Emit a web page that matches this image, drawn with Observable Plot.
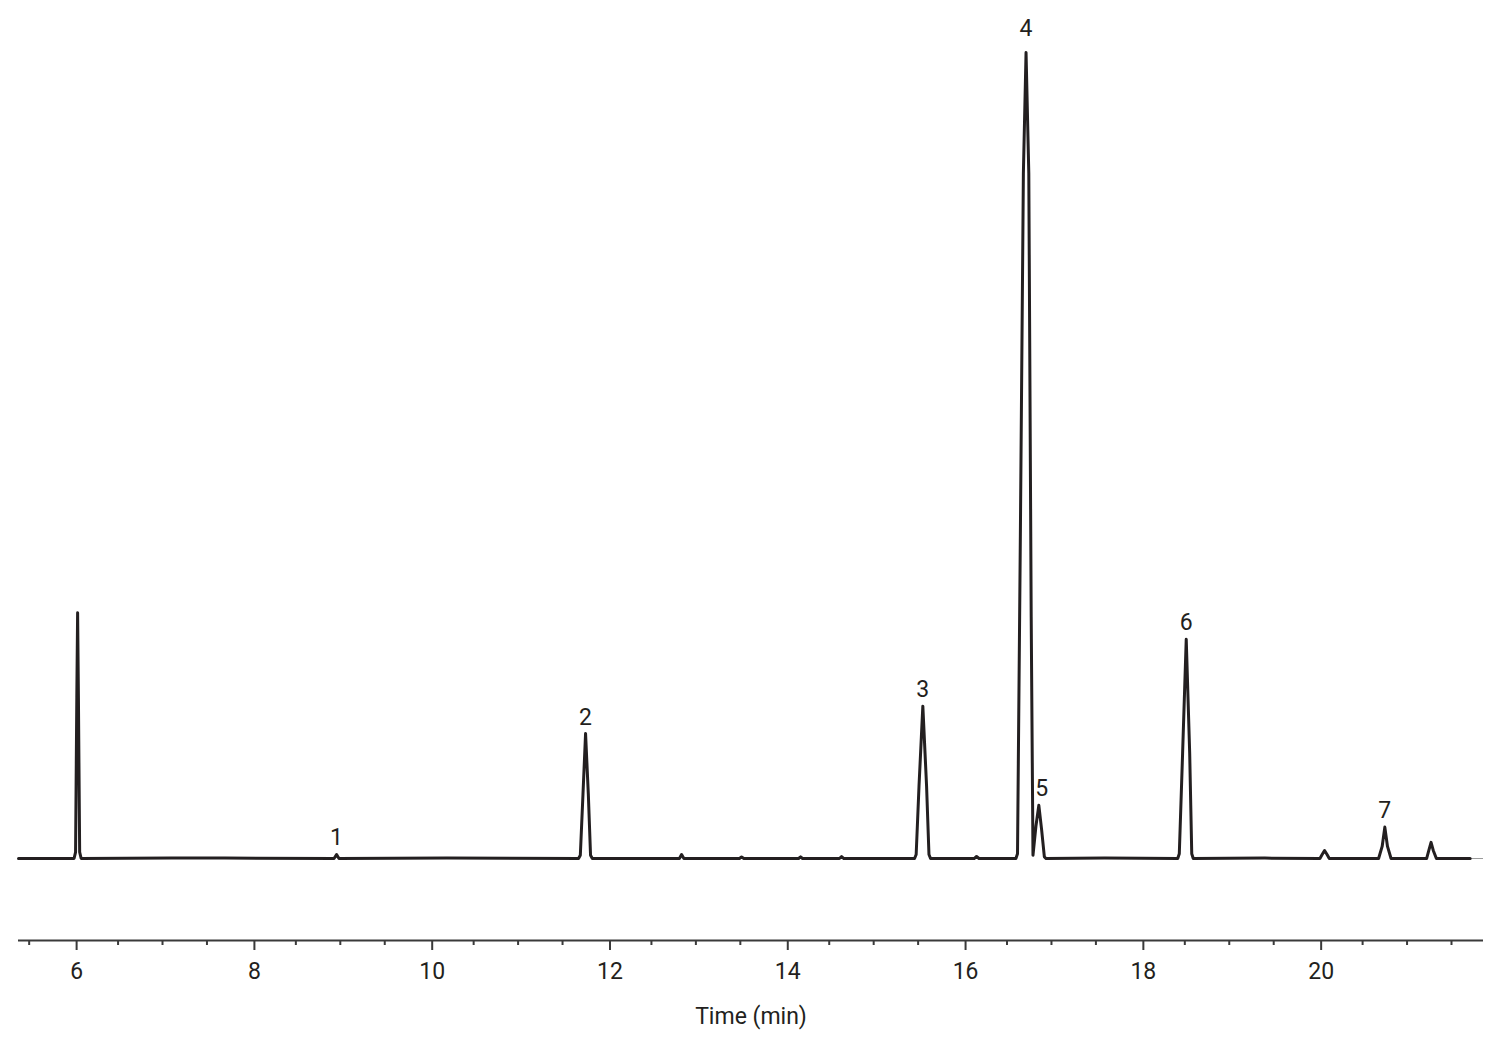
<!DOCTYPE html>
<html>
<head>
<meta charset="utf-8">
<script src="https://cdn.jsdelivr.net/npm/d3@7"></script>
<script src="https://cdn.jsdelivr.net/npm/@observablehq/plot@0.6"></script>
<style>
  html, body { margin: 0; padding: 0; background: #fff; }
  #chart svg { display: block; }
</style>
</head>
<body>
<div id="chart"></div>
<script>
// Chromatogram trace: retention time (min) and relative signal
const traceTime = [
  5.38, 5.9, 6.005, 6.022, 6.036, 6.045, 6.054, 6.068, 6.085, 7.1, 7.7,
  8.93, 8.958, 8.985, 10.2,
  11.68, 11.70, 11.73, 11.759, 11.79, 11.815, 11.835,
  12.815, 12.839, 12.865, 13.49, 13.514, 13.54, 14.155, 14.178, 14.2, 14.615, 14.639, 14.665,
  15.46, 15.478, 15.51, 15.553, 15.595, 15.622, 15.64,
  16.13, 16.157, 16.185,
  16.60, 16.618, 16.65, 16.684, 16.714, 16.745, 16.772, 16.792,
  16.825, 16.858, 16.89, 16.92, 16.94,
  17.6,
  18.42, 18.438, 18.475, 18.516, 18.555, 18.578, 18.595,
  19.4,
  20.02, 20.045, 20.072, 20.10, 20.125,
  20.68, 20.72, 20.75, 20.78, 20.82,
  21.22, 21.245, 21.27, 21.295, 21.33,
  21.71
];
const traceSignal = [
  0, 0, 0, 0.8, 20, 30.5, 20, 0.8, 0, 0.05, 0.05,
  0, 0.5, 0, 0.05,
  0, 0.4, 8, 15.5, 8, 0.4, 0,
  0, 0.5, 0, 0, 0.2, 0, 0, 0.2, 0, 0, 0.25, 0,
  0, 0.5, 9, 18.9, 9, 0.5, 0,
  0, 0.25, 0,
  0, 0.6, 40, 85, 100, 85, 30, 0.4,
  4, 6.6, 3.5, 0.2, 0,
  0.05,
  0, 0.6, 13, 27.2, 13, 0.6, 0,
  0.05,
  0, 0.5, 1.0, 0.5, 0,
  0, 1.5, 3.9, 1.5, 0,
  0, 1.0, 2.0, 1.0, 0,
  0
];

// Numbered peak labels
const peakLabels = ["1", "2", "3", "4", "5", "6", "7"];
const peakTimes  = [8.958, 11.759, 15.553, 16.714, 16.89, 18.516, 20.75];
const peakHeights = [0.5, 15.5, 18.9, 100, 6.6, 27.2, 3.9];

// Axis ticks
const majorTicks = [6, 8, 10, 12, 14, 16, 18, 20];
const minorTicks = [5.5, 6.5, 7, 7.5, 8.5, 9, 9.5, 10.5, 11, 11.5, 12.5, 13, 13.5, 14.5, 15, 15.5, 16.5, 17, 17.5, 18.5, 19, 19.5, 20.5, 21, 21.5];
const xDomain = [5.38, 21.86];
const yDomain = [-10.17, 100];
const xLabel = "Time (min)";

const trace = traceTime.map((t, i) => ({time: t, signal: traceSignal[i]}));
const labels = peakLabels.map((l, i) => ({label: l, time: peakTimes[i], signal: peakHeights[i]}));

const ink = "#231f20";
const font = "'Roboto', sans-serif";

const chart = Plot.plot({
  width: 1508,
  height: 1041,
  marginLeft: 18,
  marginRight: 25,
  marginTop: 52,
  marginBottom: 101,
  style: {fontFamily: font, fontSize: "23px", color: ink, background: "#fff"},
  x: {domain: xDomain},
  y: {domain: yDomain, axis: null},
  marks: [
    Plot.ruleY([yDomain[0]], {x1: xDomain[0], x2: xDomain[1], stroke: "#3a3a3a", strokeWidth: 2}),
    Plot.axisX({ticks: minorTicks, tickSize: 5, tickFormat: () => "", stroke: "#3a3a3a", strokeWidth: 2, label: null}),
    Plot.axisX({ticks: majorTicks, tickSize: 10, tickPadding: 12, dx: 3, stroke: "#3a3a3a", strokeWidth: 2,
      tickFormat: d => String(d), label: xLabel, labelAnchor: "center", labelArrow: "none", labelOffset: 83}),
    Plot.ruleY([0], {x1: 21.7, x2: xDomain[1], stroke: "#9a9a9a", strokeWidth: 1}),
    Plot.line(trace, {x: "time", y: "signal", stroke: ink, strokeWidth: 3, strokeLinejoin: "round"}),
    Plot.text(labels.filter(d => d.label !== "4"), {x: "time", y: "signal", text: "label", lineAnchor: "bottom", dy: -9, fill: ink}),
    Plot.text(labels.filter(d => d.label === "4"), {x: "time", y: "signal", text: "label", lineAnchor: "bottom", dy: -17, fill: ink})
  ]
});
document.getElementById("chart").appendChild(chart);
</script>
</body>
</html>
